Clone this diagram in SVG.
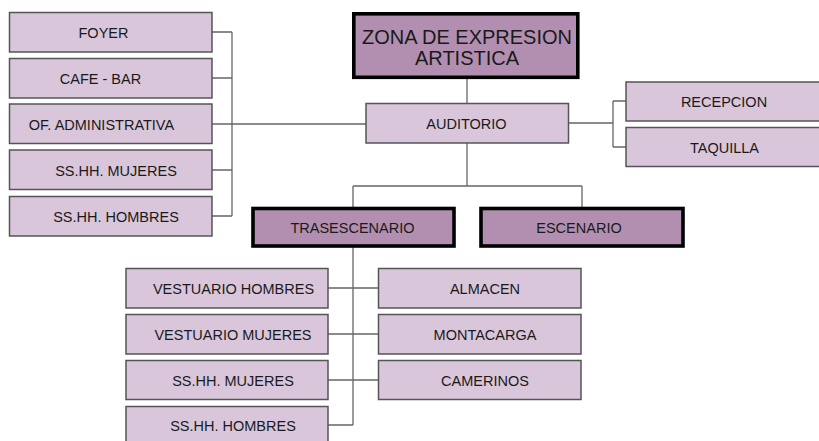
<svg xmlns="http://www.w3.org/2000/svg" width="819" height="441" viewBox="0 0 819 441">
<style>
.lb{fill:#D9C6DA;stroke:#555;stroke-width:1.5}
.db{fill:#B28FB0;stroke:#000;stroke-width:3.6}
.t{font-family:"Liberation Sans",Arial,sans-serif;font-size:14.5px;fill:#1a1a1a;text-anchor:middle}
.tt{font-family:"Liberation Sans",Arial,sans-serif;font-size:20px;fill:#1a1a1a;text-anchor:middle}
.c{fill:none;stroke:#666;stroke-width:1.3}
</style>
<rect width="819" height="441" fill="#fff"/>
<g id="connectors">
<path class="c" d="M212 32H232M212 78H232M212 170H232M212 216H232M232 32V216M212 124H366"/>
<path class="c" d="M467 79V104M467 143V186M353 186H582M353 186V208M582 186V208"/>
<path class="c" d="M568 123H613M613 101V147M613 101H626M613 147H626"/>
<path class="c" d="M353 247V425M328 288H378M328 334H378M328 380H378M328 425H353"/>
</g>
<g id="n-foyer"><rect class="lb" x="9.5" y="12.5" width="202.5" height="39.5"/><text class="t" x="103.5" y="37.5">FOYER</text></g>
<g id="n-cafe"><rect class="lb" x="9.5" y="58.5" width="202.5" height="39.5"/><text class="t" x="100.5" y="83.5">CAFE - BAR</text></g>
<g id="n-of"><rect class="lb" x="9.5" y="104" width="202.5" height="39.5"/><text class="t" x="101.5" y="129.5">OF. ADMINISTRATIVA</text></g>
<g id="n-ssm"><rect class="lb" x="9.5" y="150" width="202.5" height="39.5"/><text class="t" x="116" y="175.5">SS.HH. MUJERES</text></g>
<g id="n-ssh"><rect class="lb" x="9.5" y="196.5" width="202.5" height="39.5"/><text class="t" x="116" y="221.5">SS.HH. HOMBRES</text></g>
<g id="n-title"><rect class="db" x="353.8" y="13.8" width="224" height="63.5"/><text class="tt" x="467" y="43.5">ZONA DE EXPRESION</text><text class="tt" x="467" y="65">ARTISTICA</text></g>
<g id="n-auditorio"><rect class="lb" x="366" y="103.5" width="202.5" height="39.5"/><text class="t" x="466.5" y="128.8">AUDITORIO</text></g>
<g id="n-recepcion"><rect class="lb" x="626" y="82" width="200" height="39"/><text class="t" x="724" y="106.5">RECEPCION</text></g>
<g id="n-taquilla"><rect class="lb" x="626" y="127.5" width="200" height="39"/><text class="t" x="724.5" y="152.5">TAQUILLA</text></g>
<g id="n-trasescenario"><rect class="db" x="253" y="208.5" width="201" height="37.5"/><text class="t" x="352.5" y="232.5">TRASESCENARIO</text></g>
<g id="n-escenario"><rect class="db" x="481" y="208.5" width="202" height="37.5"/><text class="t" x="579" y="232.5">ESCENARIO</text></g>
<g id="n-vh"><rect class="lb" x="126" y="268.5" width="202" height="39.5"/><text class="t" x="233.5" y="293.5">VESTUARIO HOMBRES</text></g>
<g id="n-vm"><rect class="lb" x="126" y="314.5" width="202" height="39.5"/><text class="t" x="233" y="339.5">VESTUARIO MUJERES</text></g>
<g id="n-ssm2"><rect class="lb" x="126" y="360.5" width="202" height="39"/><text class="t" x="233" y="385.5">SS.HH. MUJERES</text></g>
<g id="n-ssh2"><rect class="lb" x="126" y="406.5" width="202" height="40"/><text class="t" x="233" y="430.5">SS.HH. HOMBRES</text></g>
<g id="n-almacen"><rect class="lb" x="378.5" y="268.5" width="202.5" height="39.5"/><text class="t" x="485" y="293.5">ALMACEN</text></g>
<g id="n-montacarga"><rect class="lb" x="378.5" y="314.5" width="202.5" height="39.5"/><text class="t" x="485" y="339.5">MONTACARGA</text></g>
<g id="n-camerinos"><rect class="lb" x="378.5" y="360.5" width="202.5" height="39"/><text class="t" x="485" y="385.5">CAMERINOS</text></g>
</svg>
